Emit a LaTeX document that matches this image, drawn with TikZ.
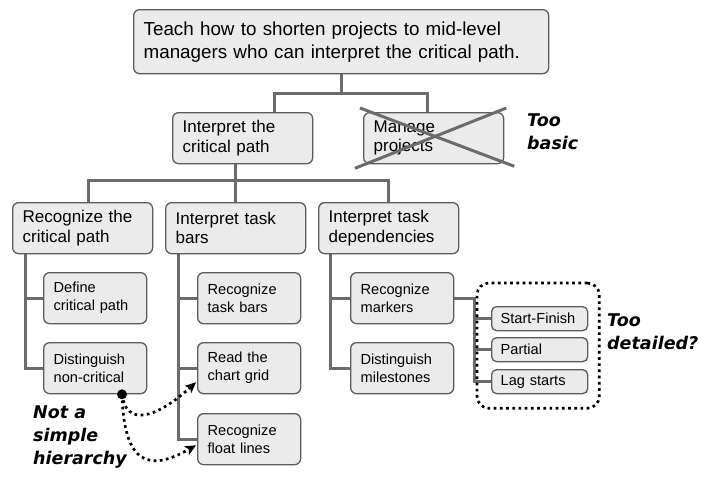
\documentclass[tikz,border=0pt]{standalone}
\usepackage{fontspec}
\setmainfont{Liberation Sans}
\newfontfamily\handfont{DejaVu Sans}
\usetikzlibrary{arrows.meta,calc,fit,backgrounds}
\definecolor{boxfill}{HTML}{EBEBEB}
\definecolor{boxline}{HTML}{5C5C5C}
\definecolor{linkgray}{HTML}{6B6B6B}

\begin{document}
\begin{tikzpicture}[x=1pt,y=-1pt,
  box/.style={draw=boxline, line width=1.3pt, fill=boxfill, rounded corners=6pt,
    anchor=north west, inner xsep=10pt, inner ysep=0pt, align=left},
  goalbox/.style={box, text width=395pt, minimum height=64pt,
    font=\fontsize{18.8}{23}\selectfont},
  bigbox/.style={box, text width=120pt, minimum height=51pt,
    font=\fontsize{17}{19.5}\selectfont},
  smallbox/.style={box, text width=83pt, minimum height=51pt,
    font=\fontsize{14.6}{18}\selectfont},
  tinybox/.style={box, inner xsep=9pt, text width=78pt, minimum height=24pt,
    rounded corners=5pt, font=\fontsize{14.6}{17}\selectfont},
  link/.style={draw=linkgray, line width=3pt},
  dotline/.style={line width=2.7pt, dash pattern=on 2.7pt off 3.5pt, line cap=butt},
  tip/.style={line width=1pt, -{Stealth[length=11pt,width=10pt,inset=3pt]}},
  note/.style={anchor=north west, inner sep=0pt, align=left,
    font=\handfont\bfseries\itshape\fontsize{17.5}{23}\selectfont}
]
\useasboundingbox (0,0) rectangle (705,477);

% goal
\node[goalbox] (goal) at (133,9)
  {Teach how to shorten projects to mid-level\\managers who can interpret the critical path.};

% first level
\node[bigbox] (l1a) at (172,112) {Interpret the\\critical path};
\node[bigbox] (l1b) at (363,112) {Manage\\projects};

% second level
\node[bigbox] (l2a) at (12,202) {Recognize the\\critical path};
\node[bigbox] (l2b) at (165,202) {Interpret task\\bars};
\node[bigbox] (l2c) at (318,202) {Interpret task\\dependencies};

% third level
\node[smallbox] (l3a1) at (43,272) {Define\\critical path};
\node[smallbox] (l3a2) at (43,342) {Distinguish\\non-critical};
\node[smallbox] (l3b1) at (197,272) {Recognize\\task bars};
\node[smallbox] (l3b2) at (197,342) {Read the\\chart grid};
\node[smallbox] (l3b3) at (197,413) {Recognize\\float lines};
\node[smallbox] (l3c1) at (350,272) {Recognize\\markers};
\node[smallbox] (l3c2) at (350,342) {Distinguish\\milestones};

% marker kinds
\node[tinybox] (sf1) at (491,306) {Start-Finish};
\node[tinybox] (sf2) at (491,337) {Partial};
\node[tinybox] (sf3) at (491,369) {Lag starts};

% tree connectors
\begin{scope}[on background layer]
  \draw[link] (goal.south) -- (goal.south |- 0,93);
  \draw[link] (l1a.north -| 274,0) -- (274,93) -- (427,93) -- (l1b.north -| 427,0);
  \draw[link] (l1a.south -| 235,0) -- (235,180);
  \draw[link] (l2a.north -| 88,0) -- (88,180) -- (388,180) -- (l2c.north -| 388,0);
  \draw[link] (l2b.north) -- (l2b.north |- 0,180);
  % recognize the critical path
  \draw[link] (l2a.south -| 25,0) |- (l3a2.west);
  \draw[link] (l3a1.west -| 25,0) -- (l3a1.west);
  % interpret task bars
  \draw[link] (l2b.south -| 178,0) |- (l3b3.west);
  \draw[link] (l3b1.west -| 178,0) -- (l3b1.west);
  \draw[link] (l3b2.west -| 178,0) -- (l3b2.west);
  % interpret task dependencies
  \draw[link] (l2c.south -| 330,0) |- (l3c2.west);
  \draw[link] (l3c1.west -| 330,0) -- (l3c1.west);
  % markers
  \draw[link] (l3c1.east) -- (l3c1.east -| 474,0) |- (sf3.west);
  \draw[link] (sf1.west -| 474,0) -- (sf1.west);
  \draw[link] (sf2.west -| 474,0) -- (sf2.west);
\end{scope}

% struck-out branch
\draw[link] ($(l1b.north west)+(-3,-4)$) -- ($(l1b.south east)+(10,2)$);
\draw[link] ($(l1b.south west)+(-8,4)$) -- ($(l1b.north east)+(2,-4)$);
\node[note] (basic) at (527,114) {Too\\basic};

% detail group
\coordinate (grpA) at ($(sf1.north west)+(-14,-23)$);
\coordinate (grpB) at ($(sf3.south east)+(11,14)$);
\node[draw, dotline, rounded corners=12pt, inner sep=0pt, fit=(grpA)(grpB)] (group) {};
\node[note] (detailed) at (607,314) {Too\\detailed?};

% cross links
\coordinate (src) at ($(l3a2.south west)+(79,0)$);
\coordinate (dstA) at ($(l3b2.south west)+(-1,-12)$);
\coordinate (dstB) at ($(l3b3.south west)+(-1,-20)$);
\coordinate (ctlA) at ($(dstA)+(-41,37)$);
\coordinate (ctlB) at ($(dstB)+(-46,26)$);
\draw[dotline, shorten >=8pt] (src) .. controls ($(src)+(4,32)$) and (ctlA) .. (dstA);
\draw[tip] ($(dstA)!1.5pt!(ctlA)$) -- (dstA);
\draw[dotline, shorten >=8pt] (src) .. controls ($(src)+(2,72)$) and (ctlB) .. (dstB);
\draw[tip] ($(dstB)!1.5pt!(ctlB)$) -- (dstB);
\fill (src) circle (5pt);
\node[note] (hier) at (33,406) {Not a\\simple\\hierarchy};
\end{tikzpicture}
\end{document}
